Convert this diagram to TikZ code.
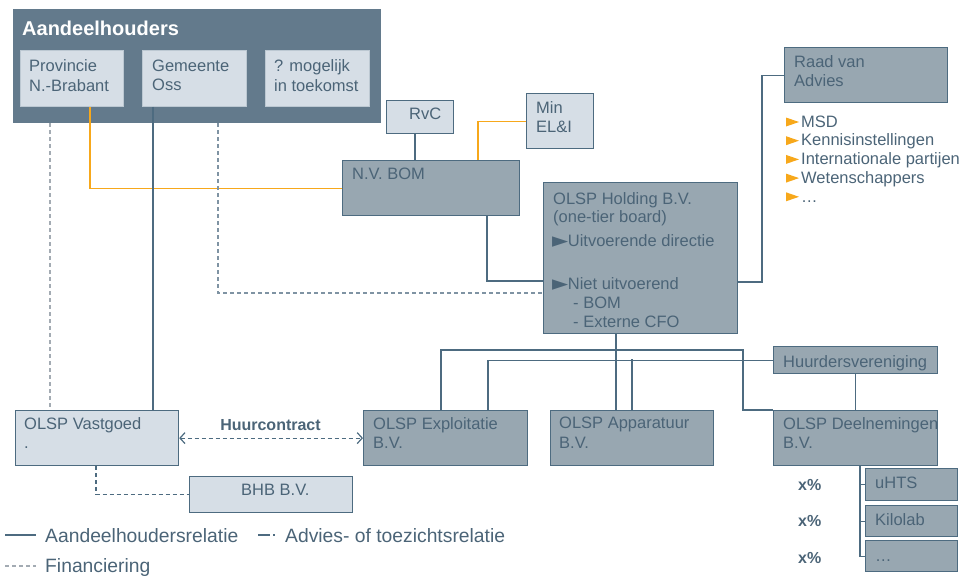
\documentclass[tikz,border=0pt]{standalone}
\usepackage{fontspec}
\setmainfont{Liberation Sans}
\newfontfamily\symfont{DejaVu Sans}
\usetikzlibrary{calc,arrows.meta}
\definecolor{dk}{HTML}{637A8C}
\definecolor{md}{HTML}{98A7B1}
\definecolor{lt}{HTML}{D6DEE6}
\definecolor{bd}{HTML}{4D6B80}
\definecolor{tx}{HTML}{4B6477}
\definecolor{org}{HTML}{F7A81B}
\definecolor{fin}{HTML}{A3ABB3}
\definecolor{adv}{HTML}{7F93A3}
\definecolor{inb}{HTML}{BCC8D2}
\newcommand\tri{\smash{\symfont\fontsize{21}{21}\selectfont\raisebox{-1pt}{►}}\kern-0.5pt}
\begin{document}
\begin{tikzpicture}[x=1pt,y=-1pt,
  box/.style={draw=bd,line width=1.2pt,inner sep=0pt,anchor=north west},
  ltbox/.style={box,fill=lt},
  mdbox/.style={box,fill=md},
  inbox/.style={box,draw=inb,line width=0.8pt,fill=lt},
  txt/.style={text=tx,font=\fontsize{16.5}{19.5}\selectfont,align=left,anchor=north west,inner sep=0pt},
  btxt/.style={text=tx,font=\fontsize{16.5}{19.5}\selectfont,anchor=base west,inner sep=0pt},
  lgtxt/.style={text=tx,font=\fontsize{19.3}{22}\selectfont,anchor=base west,inner sep=0pt},
  ln/.style={draw=bd,line width=1.2pt},
  orl/.style={draw=org,line width=1.2pt},
  finl/.style={draw=fin,line width=1.4pt,dash pattern=on 4pt off 3pt},
  advl/.style={draw=adv,line width=1.3pt,dash pattern=on 4pt off 3pt},
  dashl/.style={draw=bd,line width=1.2pt,dash pattern=on 4pt off 3pt},
]
\useasboundingbox (0,0) rectangle (961,576);

% ---- boxes
\node[box,draw=none,fill=dk,minimum width=368pt,minimum height=114pt] (aand) at (12,8) {};
\node[anchor=base west,inner sep=0pt,text=white,font=\fontsize{20}{24}\selectfont\bfseries] (aandt) at (22,35) {Aandeelhouders};
\node[inbox,minimum width=103pt,minimum height=56pt] (prov) at (20,50) {};
\node[inbox,minimum width=104pt,minimum height=56pt] (gem) at (142,50) {};
\node[inbox,minimum width=104pt,minimum height=56pt] (mog) at (265,50) {};
\node[txt] (provt) at (29,59.5) {Provincie\\N.-Brabant};
\node[txt] (gemt) at (152,59.5) {Gemeente\\Oss};
\node[txt] (mogt) at (274,59.5) {? mogelijk\\in toekomst};

\node[ltbox,minimum width=67pt,minimum height=33pt] (rvc) at (386,100) {};
\node[txt] (rvct) at (409,108) {RvC};
\node[ltbox,minimum width=67pt,minimum height=55pt] (min) at (526,93) {};
\node[txt] (mint) at (536,101) {Min\\EL\&I};
\node[mdbox,minimum width=177pt,minimum height=55pt] (bom) at (342,160) {};
\node[txt] (bomt) at (352,168) {N.V. BOM};

\node[mdbox,minimum width=194pt,minimum height=151pt] (hold) at (543,182) {};
\node[btxt] (h1) at (553,204) {OLSP Holding B.V.};
\node[btxt] (h2) at (553,222.5) {(one-tier board)};
\node[btxt] (h3) at (552,246.5) {\tri Uitvoerende directie};
\node[btxt] (h4) at (552,289.5) {\tri Niet uitvoerend};
\node[btxt] (h5) at (573,308.5) {- BOM};
\node[btxt] (h6) at (573,327.5) {- Externe CFO};

\node[mdbox,minimum width=163pt,minimum height=55pt] (raad) at (784,47) {};
\node[txt] (raadt) at (794,55) {Raad van\\Advies};
\node[txt,font=\fontsize{16.5}{18.7}\selectfont] (bul) at (801,115.5)
  {MSD\\Kennisinstellingen\\Internationale partijen\\Wetenschappers\\…};
\foreach \i in {0,...,4}{
  \fill[org] ($(bul.north west)+(-15,2+18.7*\i)$) -- ++(13,4.5) -- ++(-13,4.5) -- cycle;
}

\node[mdbox,minimum width=164pt,minimum height=27pt] (huur) at (773,346) {};
\node[txt] (huurt) at (783,355) {Huurdersvereniging};

\node[ltbox,minimum width=163pt,minimum height=55pt] (vast) at (15,410) {};
\node[txt] (vastt) at (24,417) {OLSP Vastgoed\\.};
\node[mdbox,minimum width=164pt,minimum height=55pt] (expl) at (363,410) {};
\node[txt] (explt) at (373,417) {OLSP Exploitatie\\B.V.};
\node[mdbox,minimum width=163pt,minimum height=55pt] (app) at (550,410) {};
\node[txt] (appt) at (559,417) {OLSP Apparatuur\\B.V.};
\node[mdbox,minimum width=164pt,minimum height=55pt] (deel) at (773,410) {};
\node[txt] (deelt) at (783,417) {OLSP Deelnemingen\\B.V.};

\node[ltbox,minimum width=163pt,minimum height=36pt] (bhb) at (189,476) {};
\node[txt] (bhbt) at (241,484) {BHB B.V.};

\node[mdbox,minimum width=92pt,minimum height=32pt] (uhts) at (865,468) {};
\node[txt] (uhtst) at (875,477) {uHTS};
\node[mdbox,minimum width=92pt,minimum height=31pt] (kilo) at (865,505) {};
\node[txt] (kilot) at (875,513) {Kilolab};
\node[mdbox,minimum width=92pt,minimum height=31pt] (more) at (865,540) {};
\node[btxt] (moret) at (875,561) {…};

\node[anchor=base west,inner sep=0pt,text=tx,font=\fontsize{16}{19}\selectfont\bfseries] (x1) at (798,490) {x\%};
\node[anchor=base west,inner sep=0pt,text=tx,font=\fontsize{16}{19}\selectfont\bfseries] (x2) at (798,526.5) {x\%};
\node[anchor=base west,inner sep=0pt,text=tx,font=\fontsize{16}{19}\selectfont\bfseries] (x3) at (798,563) {x\%};

% ---- connectors
\draw[orl] ($(prov.south west)+(70,0)$) |- (bom.west);
\draw[orl] (min.west) -| ($(bom.north west)+(136,0)$);
\draw[ln] ($(rvc.south west)+(29,0)$) -- ($(bom.north west)+(73,0)$);
\draw[ln] ($(gem.south west)+(11,0)$) coordinate (g1) -- (g1 |- vast.north);
\draw[finl] ($(aand.south west)+(38,0)$) coordinate (f1) -- (f1 |- vast.north);
\draw[advl] ($(aand.south west)+(206,0)$) |- ($(hold.north west)+(0,111)$);
\draw[ln] ($(bom.south west)+(145,0)$) |- ($(hold.north west)+(0,99)$);
\draw[ln] ($(hold.north east)+(0,100)$) -| ($(raad.west)+(-22,0)$) -- (raad.west);
\draw[ln] ($(hold.south west)+(73,0)$) coordinate (s1) -- (s1 |- app.north);
\coordinate (j1) at (743,350);
\draw[ln] ($(expl.north west)+(78,0)$) |- (j1) |- (deel.north west);
\draw[ln] ($(expl.north west)+(125,0)$) |- (huur.west);
\draw[ln] ($(app.north west)+(82,0)$) -- ($(app.north west)+(82,-51)$);
\draw[ln] (huur.south) -- (huur.south |- deel.north);
\draw[ln] ($(deel.south west)+(87,0)$) coordinate (d1) |- (more.west);
\draw[ln] (d1 |- uhts.west) -- (uhts.west);
\draw[ln] (d1 |- kilo.west) -- (kilo.west);
\draw[dashl,arrows={Straight Barb[length=5pt,width=11pt]-Straight Barb[length=5pt,width=11pt]}] (vast.east) -- (expl.west);
\node[anchor=base,inner sep=0pt,text=tx,font=\fontsize{16}{19}\selectfont\bfseries] (huurc) at (270.5,430) {Huurcontract};
\draw[dashl] ($(vast.south west)+(81,0)$) |- (bhb.west);

% ---- legend
\coordinate (l1a) at (5,535); \coordinate (l1b) at (36,535);
\draw[ln] (l1a) -- (l1b);
\node[lgtxt] (l1t) at (45,542) {Aandeelhoudersrelatie};
\coordinate (l2a) at (258,535); \coordinate (l2b) at (276,535);
\draw[draw=bd,line width=1.2pt,dash pattern=on 12pt off 3pt on 1.5pt off 10pt] (l2a) -- (l2b);
\node[lgtxt] (l2t) at (285,542) {Advies- of toezichtsrelatie};
\coordinate (l3a) at (5,566); \coordinate (l3b) at (36,566);
\draw[finl] (l3a) -- (l3b);
\node[lgtxt] (l3t) at (45,572) {Financiering};
\end{tikzpicture}
\end{document}
